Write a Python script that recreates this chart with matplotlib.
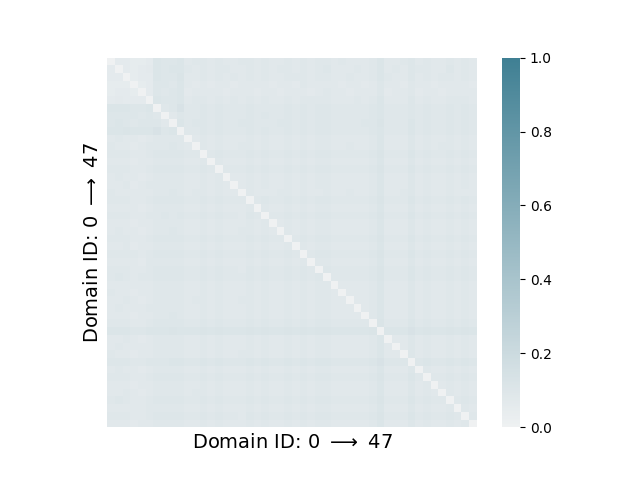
import numpy as np
import matplotlib
matplotlib.use("Agg")
import matplotlib.pyplot as plt
import seaborn as sns

n_domains = 48
axis_label = r"Domain ID: 0 $\longrightarrow$ 47"

# Upper triangle of the (symmetric) domain distance matrix, in hundredths.
# upper_rows[i] holds the values for columns i+1 .. 47.
upper_rows = [
    [6,6,5,5,6, 11,10,10,11, 8,9,9,8,9,8,8,9,9,8, 9,8,8,9,8,9,8,9,9,8, 9,8,8,8,9,11,8,8,9,10, 8,9,8,8,9,8,9,8],
    [6,5,6,7, 11,10,11,11, 9,8,9,8,9,9,8,8,9,8, 9,8,9,9,8,9,8,9,10,8, 8,8,9,8,9,11,8,9,8,10, 9,9,8,8,10,8,9,8],
    [5,6,6, 11,10,10,12, 8,8,9,8,9,8,9,8,9,8, 9,8,8,9,9,9,8,9,9,8, 8,9,8,8,9,11,9,8,8,10, 8,9,8,9,9,8,9,8],
    [5,6, 10,10,9,11, 8,7,8,7,8,8,7,8,8,8, 8,7,8,8,7,9,8,8,8,8, 7,8,8,7,8,10,8,8,7,9, 8,8,7,8,8,8,8,7],
    [6, 10,9,10,11, 7,8,8,8,8,7,8,8,8,7, 8,8,7,8,8,8,7,8,9,8, 8,7,8,8,8,10,7,8,8,9, 7,8,8,7,8,8,8,8],
    [11,10,10,11, 8,9,9,8,9,8,9,8,9,8, 9,8,8,9,8,9,9,9,9,8, 8,8,9,8,9,11,8,8,8,10, 8,9,8,8,9,9,9,8],
    [9,10,13, 9,9,10,9,10,9,9,9,10,9, 9,9,9,10,9,10,9,10,10,9, 9,9,9,9,10,11,9,9,9,10, 9,10,9,9,10,9,10,9],
    [8,10, 9,9,10,9,10,9,9,9,10,9, 10,9,9,10,9,10,9,10,10,9, 9,9,9,9,10,11,9,9,9,10, 9,10,9,9,10,9,10,9],
    [11, 9,10,10,9,10,9,9,10,10,9, 9,9,10,10,9,10,9,10,10,9, 9,9,9,10,10,12,9,9,9,11, 9,10,9,9,10,9,10,9],
    [9,9,10,9,10,9,9,9,10,9, 10,9,9,10,9,10,9,10,10,9, 9,9,9,9,10,11,9,9,9,11, 9,10,9,9,10,9,10,9],
    [8,9,8,9,8,8,8,9,8, 9,8,8,9,8,9,8,9,9,8, 8,8,8,8,9,11,8,8,8,10, 8,9,8,8,9,8,9,8],
    [9,8,9,8,8,9,9,8, 9,8,8,9,8,9,8,9,9,8, 8,9,8,8,9,11,8,8,8,10, 8,9,8,9,9,8,9,8],
    [9,10,9,9,9,10,9, 10,9,9,10,9,10,9,10,10,9, 9,9,9,9,10,12,9,9,9,11, 9,10,9,9,10,9,10,9],
    [9,8,8,8,9,8, 9,8,8,9,8,9,8,9,9,8, 8,8,8,8,9,11,8,8,8,10, 8,9,8,8,9,8,9,8],
    [9,9,9,10,9, 10,9,9,10,9,10,9,10,10,9, 9,9,9,9,10,12,9,9,9,11, 9,10,9,9,10,9,10,9],
    [8,8,9,8, 9,8,8,9,8,9,8,9,9,8, 8,8,8,8,9,11,8,8,8,10, 8,9,8,8,9,8,9,8],
    [8,9,8, 9,8,8,9,8,9,8,9,9,8, 8,8,8,8,9,11,8,8,8,10, 8,9,8,8,9,8,9,8],
    [9,8, 8,8,9,9,8,9,8,8,9,8, 8,9,8,8,9,11,8,8,9,10, 8,9,8,8,9,8,8,8],
    [9, 10,9,9,10,9,10,9,10,10,9, 9,9,9,9,10,12,9,9,9,11, 9,10,9,9,10,9,10,9],
    [9,8,8,9,8,9,8,9,9,8, 8,8,8,8,9,11,8,8,8,10, 8,9,8,8,9,8,9,8],
    [9,9,10,9,10,9,10,10,9, 9,9,9,9,10,12,9,9,9,11, 9,10,9,9,10,9,10,9],
    [8,9,8,9,8,9,9,8, 8,8,8,8,9,11,8,8,8,10, 8,9,8,8,9,8,9,8],
    [9,8,9,8,9,9,8, 8,8,8,8,9,11,8,8,8,10, 8,9,8,8,9,8,9,8],
    [9,10,9,10,10,9, 9,9,9,9,10,12,9,9,9,11, 9,10,9,9,10,9,10,9],
    [9,8,9,9,8, 8,8,8,8,9,11,8,8,8,10, 8,9,8,8,9,8,9,8],
    [9,10,10,9, 9,9,9,9,10,12,9,9,9,11, 9,10,9,9,10,9,10,9],
    [9,9,8, 8,8,8,8,9,11,8,8,8,10, 8,9,8,8,9,8,9,8],
    [10,9, 9,9,9,9,10,12,9,9,9,11, 9,10,9,9,10,9,10,9],
    [9, 9,9,9,9,10,12,9,9,9,11, 9,10,9,9,10,9,10,9],
    [8,8,8,8,9,11,8,8,8,10, 8,9,8,8,9,8,9,8],
    [8,8,8,9,11,8,8,8,10, 8,9,8,8,9,8,9,8],
    [8,8,9,11,8,8,8,10, 8,9,8,8,9,8,9,8],
    [8,9,11,8,8,8,10, 8,9,8,8,9,8,9,8],
    [9,11,8,8,8,10, 8,9,8,8,9,8,9,8],
    [12,9,9,9,11, 9,10,9,9,10,9,10,9],
    [11,11,11,13, 11,12,11,11,12,11,12,11],
    [8,8,10, 8,9,8,8,9,8,9,8],
    [8,10, 8,9,8,8,9,8,9,8],
    [10, 8,9,8,8,9,8,9,8],
    [10,11,10,10,11,10,11,10],
    [9,8,8,9,8,9,8],
    [9,9,10,9,10,9],
    [8,9,8,9,8],
    [9,8,9,8],
    [9,10,9],
    [9,8],
    [9],
]

dist = np.zeros((n_domains, n_domains))
for i, row in enumerate(upper_rows):
    vals = np.array(row, dtype=float) / 100.0
    if len(vals) != n_domains - 1 - i:
        raise ValueError(f"row {i} has {len(vals)} values")
    dist[i, i + 1:] = vals
    dist[i + 1:, i] = vals

cmap = sns.light_palette((220, 75, 50), input="husl", as_cmap=True)

fig = plt.figure(figsize=(6.4, 4.8), dpi=100)
ax = sns.heatmap(dist, vmin=0, vmax=1, cmap=cmap, square=True,
                 xticklabels=False, yticklabels=False)
ax.set_xlabel(axis_label, fontsize=14)
ax.set_ylabel(axis_label, fontsize=14)
fig.savefig("out.png", dpi=100)
